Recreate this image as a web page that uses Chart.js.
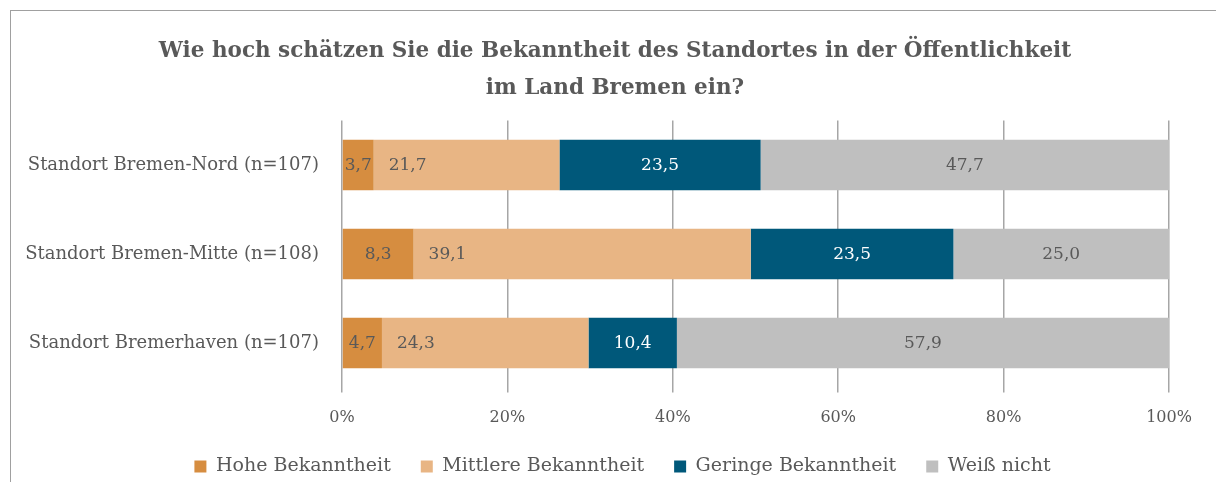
<!DOCTYPE html>
<html>
<head>
<meta charset="utf-8">
<script src="https://cdn.jsdelivr.net/npm/chart.js@4/dist/chart.umd.min.js"></script>
<style>
  html, body { margin: 0; padding: 0; background: #ffffff; overflow: hidden; }
  #wrap { position: relative; width: 1216px; height: 482px; }
  #frame { position: absolute; left: 10px; top: 10px; width: 1230px; height: 500px; border: 1px solid #a0a0a0; box-sizing: border-box; }
  canvas { position: absolute; left: 0; top: 0; }
</style>
</head>
<body>
<div id="wrap">
  <div id="frame"></div>
  <canvas id="c" width="1216" height="482"></canvas>
</div>
<script>
const titleLines = ["Wie hoch schätzen Sie die Bekanntheit des Standortes in der Öffentlichkeit", "im Land Bremen ein?"];
const categories = ["Standort Bremen-Nord (n=107)", "Standort Bremen-Mitte (n=108)", "Standort Bremerhaven (n=107)"];
const seriesNames = ["Hohe Bekanntheit", "Mittlere Bekanntheit", "Geringe Bekanntheit", "Weiß nicht"];
const hohe = [3.7, 8.3, 4.7];
const mittlere = [21.7, 39.1, 24.3];
const geringe = [23.5, 23.5, 10.4];
const weissNicht = [47.7, 25.0, 57.9];
const xTicks = [0, 20, 40, 60, 80, 100];

const FONT = "'DejaVu Serif', serif";
const TEXT = '#595959';
const colors = ['#D68D40', '#E8B584', '#00587A', '#BFBFBF'];
const labelColors = [TEXT, TEXT, '#ffffff', TEXT];
const raw = [hohe, mittlere, geringe, weissNicht];
const totals = categories.map((_, i) => raw.reduce((s, arr) => s + arr[i], 0));

const datasets = raw.map((arr, k) => ({
  label: seriesNames[k],
  data: arr.map((v, i) => v / totals[i] * 100),
  rawValues: arr,
  backgroundColor: colors[k],
  borderWidth: 0,
  barPercentage: 0.565,
  categoryPercentage: 1.0
}));

const labelPlugin = {
  id: 'segLabels',
  afterDatasetsDraw(chart) {
    const ctx = chart.ctx;
    ctx.save();
    ctx.font = "17px " + FONT;
    ctx.textBaseline = 'middle';
    ctx.textAlign = 'center';
    chart.data.datasets.forEach((ds, k) => {
      const meta = chart.getDatasetMeta(k);
      meta.data.forEach((bar, i) => {
        const txt = ds.rawValues[i].toFixed(1).replace('.', ',');
        const w = ctx.measureText(txt).width;
        const left = bar.base, right = bar.x;
        const x = (k === 1) ? left + 15 + w / 2 : (left + right) / 2;
        ctx.fillStyle = labelColors[k];
        ctx.fillText(txt, x, bar.y + 1);
      });
    });
    ctx.restore();
  }
};

// shift the title and legend boxes so they are centred like the reference
const shiftPlugin = {
  id: 'shiftBlocks',
  afterLayout(chart) {
    if (chart.titleBlock) { chart.titleBlock.left += 25.5; chart.titleBlock.right += 25.5; }
    if (chart.legend) { chart.legend.left += 33; chart.legend.right += 33; }
  }
};

new Chart(document.getElementById('c'), {
  type: 'bar',
  data: { labels: categories, datasets },
  plugins: [labelPlugin, shiftPlugin],
  options: {
    indexAxis: 'y',
    responsive: false,
    animation: false,
    layout: { padding: { left: 10, right: 47, top: 0, bottom: -4 } },
    plugins: {
      title: {
        display: true,
        text: titleLines,
        color: TEXT,
        font: { family: FONT, size: 21.5, weight: 'bold', lineHeight: '37px' },
        padding: { top: 33, bottom: 13.5 }
      },
      legend: {
        position: 'bottom',
        labels: {
          color: TEXT,
          font: { family: FONT, size: 19, lineHeight: 0.8 },
          boxWidth: 12,
          boxHeight: 12,
          padding: 30
        }
      },
      tooltip: { enabled: false }
    },
    scales: {
      x: {
        stacked: true,
        min: 0,
        max: 100,
        afterBuildTicks(scale) { scale.ticks = xTicks.map(v => ({ value: v })); },
        afterFit(scale) { scale.height = 39.5; },
        ticks: {
          color: TEXT,
          font: { family: FONT, size: 16 },
          padding: 16,
          callback: v => v + '%'
        },
        grid: { color: '#a6a6a6', lineWidth: 1.5, tickLength: 5, drawTicks: true },
        border: { display: false }
      },
      y: {
        stacked: true,
        afterFit(scale) { scale.width = 332; },
        ticks: {
          color: TEXT,
          font: { family: FONT, size: 18 },
          padding: 15
        },
        grid: { display: false },
        border: { display: false }
      }
    }
  }
});
</script>
</body>
</html>
